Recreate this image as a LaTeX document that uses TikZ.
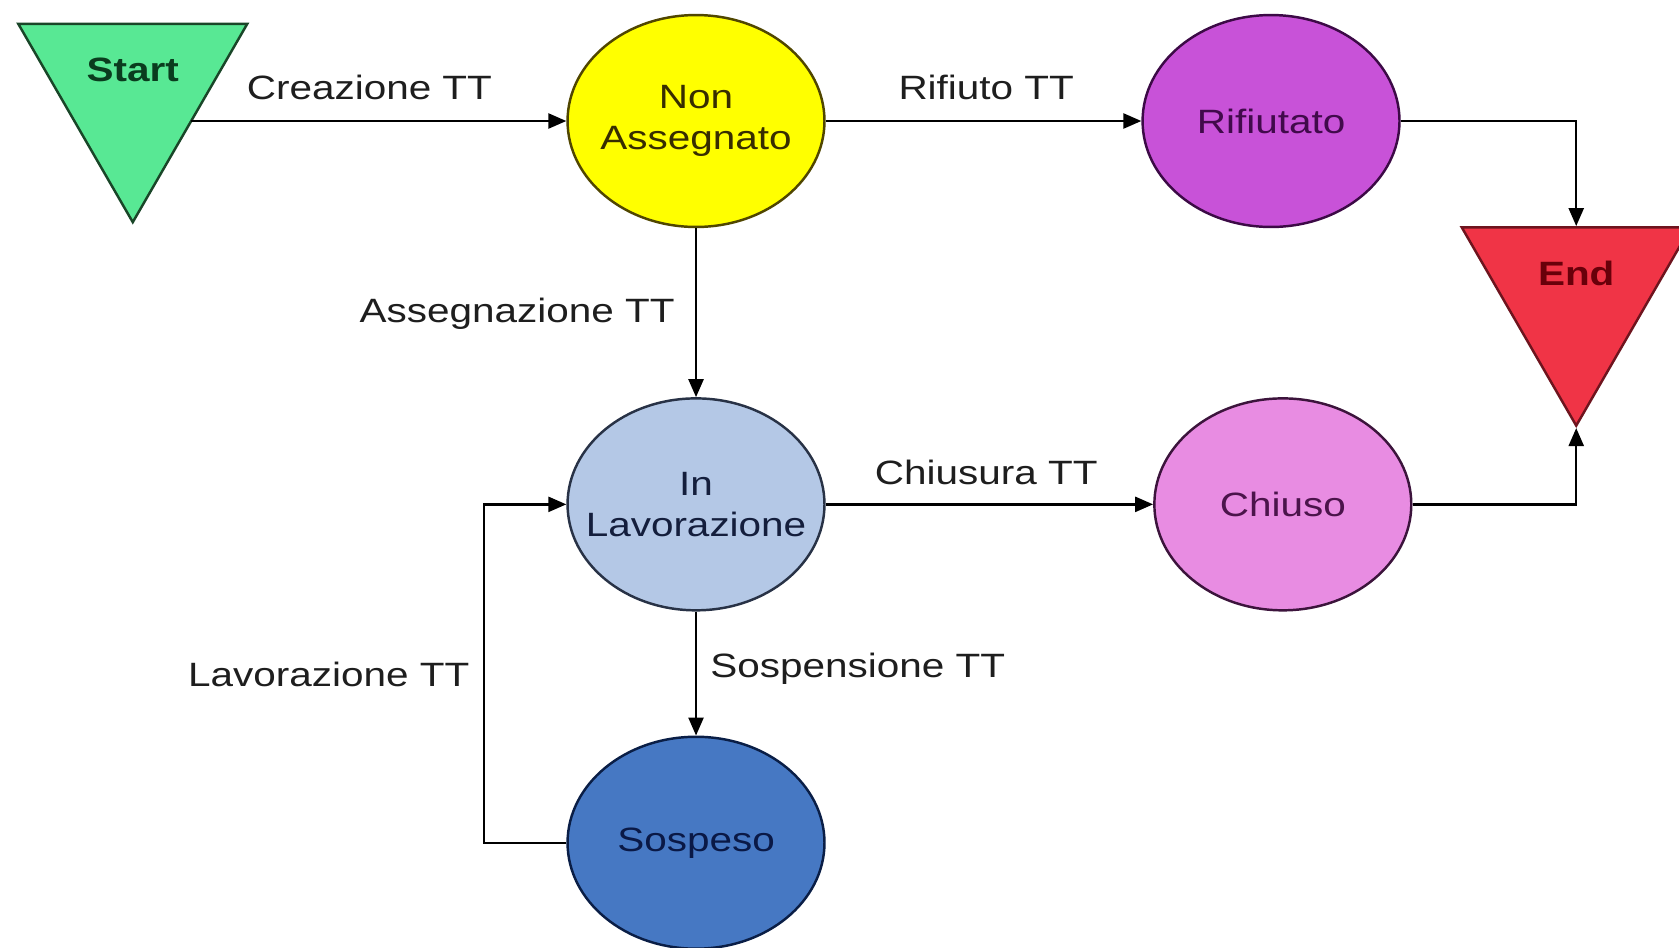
\documentclass[tikz,border=0pt]{standalone}
\usepackage{fontspec}
\setmainfont[FakeStretch=1.2]{Liberation Sans}
\usetikzlibrary{shapes.geometric,arrows.meta}

\definecolor{startfill}{RGB}{88,232,148}
\definecolor{startdraw}{RGB}{25,70,40}
\definecolor{startink}{RGB}{10,60,30}
\definecolor{endfill}{RGB}{240,52,70}
\definecolor{enddraw}{RGB}{110,20,30}
\definecolor{endink}{RGB}{105,0,10}
\definecolor{nonassfill}{RGB}{255,255,0}
\definecolor{nonassdraw}{RGB}{80,70,0}
\definecolor{nonassink}{RGB}{55,45,0}
\definecolor{rifiutfill}{RGB}{200,82,216}
\definecolor{rifiutdraw}{RGB}{60,10,70}
\definecolor{rifiutink}{RGB}{65,10,75}
\definecolor{inlavfill}{RGB}{180,200,230}
\definecolor{inlavdraw}{RGB}{40,50,70}
\definecolor{inlavink}{RGB}{20,30,60}
\definecolor{chiusofill}{RGB}{232,140,226}
\definecolor{chiusodraw}{RGB}{60,20,60}
\definecolor{chiusoink}{RGB}{75,20,75}
\definecolor{sospfill}{RGB}{70,120,195}
\definecolor{sospdraw}{RGB}{10,30,70}
\definecolor{sospink}{RGB}{10,25,70}
\definecolor{labelink}{RGB}{30,30,30}

\newcommand\diagfont{\fontsize{9.6}{11.5}\selectfont}

\tikzset{
  state/.style={ellipse, draw, line width=0.7pt, minimum width=2.57cm,
    minimum height=2.12cm, inner xsep=-6pt, inner ysep=0pt, align=center,
    font=\diagfont},
  terminal/.style={regular polygon, regular polygon sides=3,
    shape border rotate=180, draw, line width=0.7pt, minimum size=2.645cm,
    inner sep=0pt},
  termtext/.style={anchor=center, label distance=-0.47cm,
    font=\diagfont\bfseries},
  edgelabel/.style={anchor=base, font=\diagfont, text=labelink},
  flow/.style={-{Triangle[length=1.8mm,width=1.5mm]}, line width=0.7pt},
}

\begin{document}
\begin{tikzpicture}[x=0.010708cm, y=-0.010708cm]
  \useasboundingbox (0,0) rectangle (1568,885);

  % start / end
  \node[terminal, fill=startfill, draw=startdraw,
        label={[termtext, text=startink]90:Start}] (start) at (124,84) {};
  \node[terminal, fill=endfill, draw=enddraw,
        label={[termtext, text=endink]90:End}] (endstate) at (1472,274) {};

  % states
  \node[state, fill=nonassfill, draw=nonassdraw, text=nonassink] (nonass)
       at (650,113) {Non\\Assegnato};
  \node[state, fill=rifiutfill, draw=rifiutdraw, text=rifiutink] (rifiut)
       at (1187,113) {Rifiutato};
  \node[state, fill=inlavfill, draw=inlavdraw, text=inlavink] (inlav)
       at (650,471) {In\\Lavorazione};
  \node[state, fill=chiusofill, draw=chiusodraw, text=chiusoink] (chiuso)
       at (1198,471) {Chiuso};
  \node[state, fill=sospfill, draw=sospdraw, text=sospink] (sospeso)
       at (650,787) {Sospeso};

  % transitions
  \draw[flow] (start.side 1 |- nonass.west) -- (nonass.west);
  \draw[flow] (nonass.east) -- (rifiut.west);
  \draw[flow] (rifiut.east) -| (endstate.side 2);
  \draw[flow] (nonass.south) -- (inlav.north);
  \draw[flow] (inlav.east) -- (chiuso.west);
  \draw[flow] (chiuso.east) -| (endstate.corner 1);
  \draw[flow] (inlav.south) -- (sospeso.north);
  \draw[flow] (sospeso.west) -- ++(-77,0) |- (inlav.west);

  % transition labels
  \node[edgelabel] (lcreazione) at (345,93) {Creazione TT};
  \node[edgelabel] (lrifiuto) at (921,93) {Rifiuto TT};
  \node[edgelabel] (lassegna) at (483,301) {Assegnazione TT};
  \node[edgelabel] (lchiusura) at (921,452) {Chiusura TT};
  \node[edgelabel] (lsospende) at (801,633) {Sospensione TT};
  \node[edgelabel] (llavora) at (307,641) {Lavorazione TT};
\end{tikzpicture}
\end{document}
